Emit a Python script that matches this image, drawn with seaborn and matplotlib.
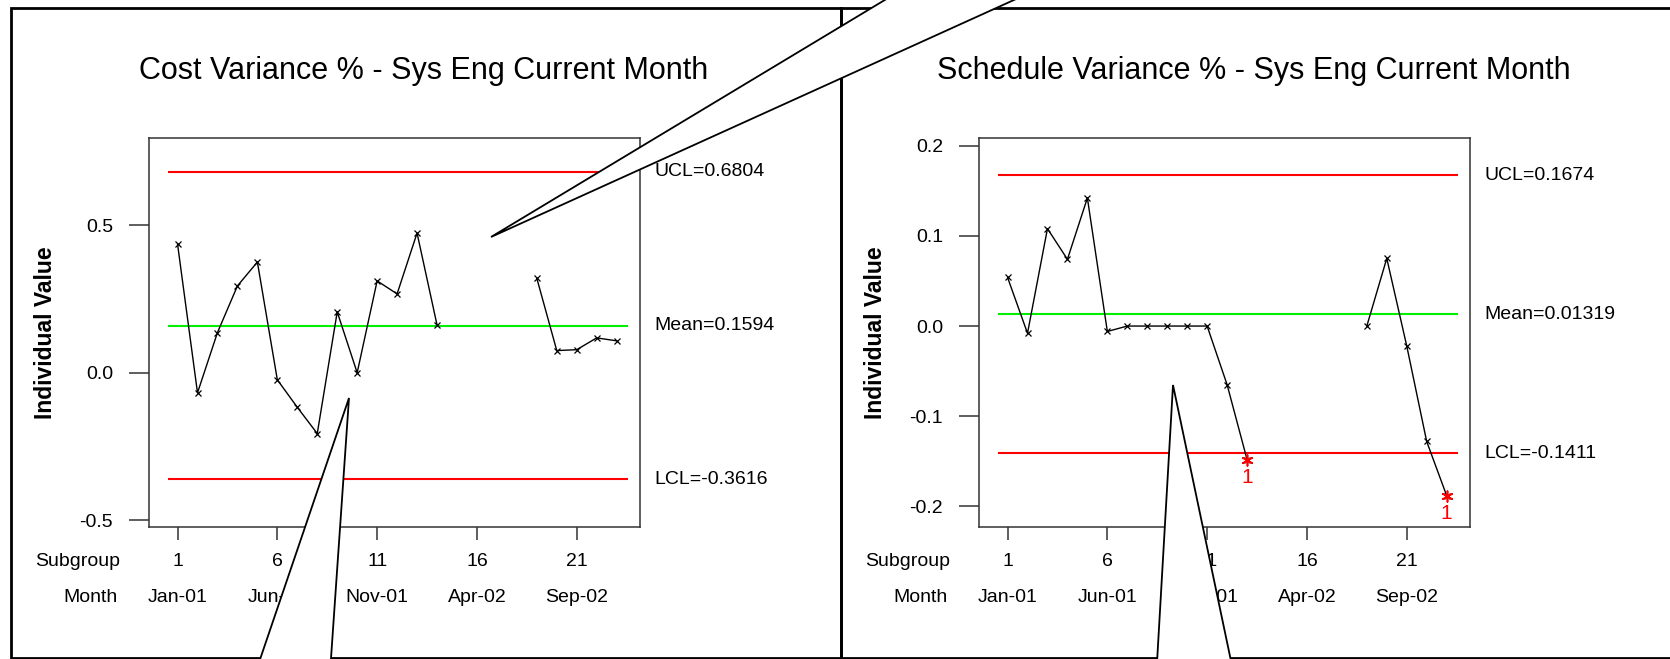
#!/usr/bin/env python3
"""Minitab-style individuals charts for Sys Eng cost / schedule variance."""

import matplotlib
matplotlib.use("Agg")
import matplotlib.pyplot as plt
import numpy as np
import pandas as pd
import seaborn as sns
from matplotlib.patches import Polygon, Rectangle

W, H = 1670, 659  # output size in pixels (dpi 100)

SUBGROUPS = list(range(1, 24))
COST_VAR = [0.436, -0.068, 0.136, 0.294, 0.375, -0.024, -0.117, -0.206, 0.206, 0.0,
            0.311, 0.267, 0.473, 0.162, np.nan, np.nan, np.nan, np.nan,
            0.32, 0.075, 0.078, 0.118, 0.108]
SCHED_VAR = [0.054, -0.008, 0.108, 0.074, 0.142, -0.006, 0.0, 0.0, 0.0, 0.0,
             0.0, -0.065, -0.148, np.nan, np.nan, np.nan, np.nan, np.nan,
             0.0, 0.075, -0.022, -0.128, -0.188]
COST_LIMITS = (0.6804, 0.1594, -0.3616)    # UCL, mean, LCL
SCHED_LIMITS = (0.1674, 0.01319, -0.1411)
COST_YTICKS = [-0.5, 0.0, 0.5]
SCHED_YTICKS = [-0.2, -0.1, 0.0, 0.1, 0.2]
TICK_SUBGROUPS = [1, 6, 11, 16, 21]
TICK_MONTHS = ["Jan-01", "Jun-01", "Nov-01", "Apr-02", "Sep-02"]

TITLES = ["Cost Variance % - Sys Eng Current Month",
          "Schedule Variance % - Sys Eng Current Month"]


def fx(px):
    return px / W


def fy(py):
    return 1 - py / H


def to_frame(values):
    df = pd.DataFrame({"subgroup": SUBGROUPS, "value": values})
    # split into runs so the gap in the data stays a gap
    df["segment"] = df["value"].isna().cumsum()
    return df.dropna()


def draw_panel(fig, x0, title, values, limits, yticks, ylim):
    # panel frame
    fig.add_artist(Rectangle((fx(x0), fy(658)), fx(830), 650 / H, transform=fig.transFigure,
                             fill=False, edgecolor="black", lw=2.0, zorder=1))
    fig.text(fx(x0 + 413), fy(71), title, ha="center", va="center", fontsize=22)

    ax = fig.add_axes([fx(x0 + 138), fy(527), fx(491), 389 / H])
    df = to_frame(values)
    ucl, mean, lcl = limits
    n = len(SUBGROUPS)

    ax.hlines(ucl, 0.5, n + 0.58, color="#ff0000", lw=1.5, zorder=2)
    ax.hlines(lcl, 0.5, n + 0.58, color="#ff0000", lw=1.5, zorder=2)
    ax.hlines(mean, 0.5, n + 0.58, color="#00ee00", lw=1.5, zorder=2)

    sns.lineplot(data=df, x="subgroup", y="value", units="segment", estimator=None,
                 color="black", lw=1.0, marker="x", markersize=5, markeredgewidth=0.9,
                 markeredgecolor="black", legend=False, ax=ax, zorder=3)

    ooc = df[(df["value"] < lcl) | (df["value"] > ucl)]
    if len(ooc):
        sns.scatterplot(data=ooc, x="subgroup", y="value", marker=(6, 2, 0), s=60,
                        color="#ff0000", linewidth=1.2, edgecolor="#ff0000",
                        legend=False, ax=ax, zorder=4)
        for _, row in ooc.iterrows():
            ax.annotate("1", xy=(row["subgroup"], row["value"]), xytext=(0, -18),
                        textcoords="offset pixels", ha="center", va="center",
                        color="#ff0000", fontsize=15)

    for val, name in zip(limits, ["UCL", "Mean", "LCL"]):
        ax.annotate(f"{name}={val}", xy=(1, val), xycoords=("axes fraction", "data"),
                    xytext=(14, 0), textcoords="offset pixels", ha="left", va="center",
                    fontsize=14)

    ax.set_xlim(-0.43, 24.17)
    ax.set_ylim(*ylim)
    ax.set_yticks(yticks)
    ax.set_yticklabels([f"{v:.1f}" for v in yticks])
    ax.set_xticks(TICK_SUBGROUPS)
    ax.set_xticklabels([])
    ax.tick_params(axis="y", direction="out", length=14.4, width=1.1, pad=11.5,
                   labelsize=14, left=True, color="#333333", labelcolor="black")
    ax.tick_params(axis="x", direction="out", length=9.4, width=1.1, bottom=True,
                   color="#333333")
    ax.set_xlabel("")
    ax.set_ylabel("")
    for sp in ax.spines.values():
        sp.set_color("#333333")
        sp.set_linewidth(1.1)

    # two rows of x labels: subgroup number and month
    for sub, month in zip(TICK_SUBGROUPS, TICK_MONTHS):
        ax.annotate(str(sub), xy=(sub, 0), xycoords=("data", "axes fraction"),
                    xytext=(0, -34), textcoords="offset pixels", ha="center",
                    va="center", fontsize=14)
        ax.annotate(month, xy=(sub, 0), xycoords=("data", "axes fraction"),
                    xytext=(0, -71), textcoords="offset pixels", ha="center",
                    va="center", fontsize=14)
    ax.annotate("Subgroup", xy=(0, 0), xycoords="axes fraction", xytext=(-29, -34),
                textcoords="offset pixels", ha="right", va="center", fontsize=14)
    ax.annotate("Month", xy=(0, 0), xycoords="axes fraction", xytext=(-31, -71),
                textcoords="offset pixels", ha="right", va="center", fontsize=14)

    fig.text(fx(x0 + 35), fy(333), "Individual Value", rotation=90, ha="center",
             va="center", fontsize=16.5, fontweight="bold")
    return ax


def main():
    sns.set_theme(style="white")
    plt.rcParams["font.family"] = ["Liberation Sans", "DejaVu Sans"]
    plt.rcParams["text.color"] = "black"

    fig = plt.figure(figsize=(W / 100, H / 100), dpi=100)
    draw_panel(fig, 11, TITLES[0], COST_VAR, COST_LIMITS, COST_YTICKS, (-0.5225, 0.795))
    draw_panel(fig, 841, TITLES[1], SCHED_VAR, SCHED_LIMITS, SCHED_YTICKS, (-0.2228, 0.2085))

    # callout tails laid over the charts
    wedges = [
        [(491, 237), (918, -20), (1058, -20)],
        [(349, 398), (253, 680), (329.5, 680)],
        [(1173, 385), (1156, 680), (1235, 680)],
    ]
    for pts in wedges:
        fig.add_artist(Polygon([(fx(x), fy(y)) for x, y in pts], closed=True,
                               transform=fig.transFigure, facecolor="white",
                               edgecolor="black", lw=1.3, zorder=20))

    fig.savefig("out.png", dpi=100)
    plt.close(fig)


if __name__ == "__main__":
    main()
